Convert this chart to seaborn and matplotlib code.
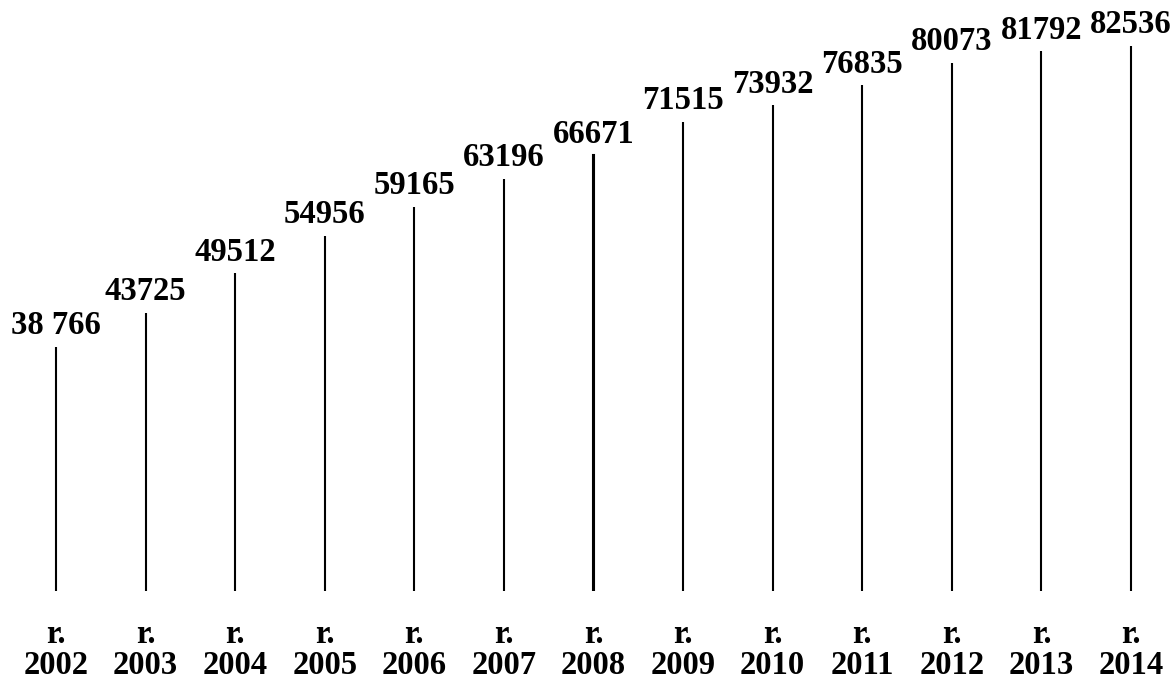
import pandas as pd
import matplotlib.pyplot as plt
import seaborn as sns

# Values
years = ["2002", "2003", "2004", "2005", "2006", "2007", "2008",
         "2009", "2010", "2011", "2012", "2013", "2014"]
values = [38766, 43725, 49512, 54956, 59165, 63196, 66671,
          71515, 73932, 76835, 80073, 81792, 82536]
value_labels = ["38 766", "43725", "49512", "54956", "59165", "63196", "66671",
                "71515", "73932", "76835", "80073", "81792", "82536"]
tick_labels = ["r.\n" + y for y in years]

df = pd.DataFrame({"Year": years, "Value": values})

sns.set_style("white")
plt.rcParams["font.family"] = ["Liberation Serif", "DejaVu Serif"]
plt.rcParams["font.weight"] = "bold"
plt.rcParams["text.color"] = "black"
plt.rcParams["xtick.color"] = "black"

fig = plt.figure(figsize=(11.75, 6.79), dpi=100)
ax = fig.add_axes([0, 0.1296, 1, 0.8704])

# Thin bars act as the vertical stems
sns.barplot(data=df, x="Year", y="Value", color="black", width=0.001,
            saturation=1, edgecolor="black", linewidth=1.5, ax=ax)

ax.set_xlim(-0.625, 12.491)
ax.set_ylim(3290, 89229)

for i, (v, lab) in enumerate(zip(values, value_labels)):
    ax.annotate(lab, (i, v), xytext=(0, 4), textcoords="offset points",
                ha="center", va="bottom", fontsize=23.5, fontweight="bold",
                color="black")

ax.set_xticks(range(len(years)))
ax.set_xticklabels(tick_labels, fontsize=23.5, fontweight="bold",
                   linespacing=1.0, color="black")
ax.tick_params(axis="x", length=0, pad=20)
ax.set_yticks([])
ax.set_xlabel("")
ax.set_ylabel("")
sns.despine(ax=ax, left=True, bottom=True)

fig.savefig("out.png", dpi=100)
